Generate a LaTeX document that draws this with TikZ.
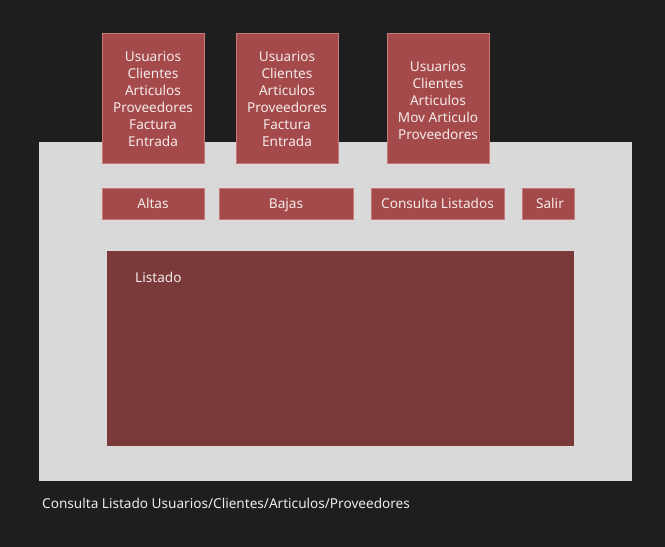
\documentclass[tikz,border=0pt]{standalone}
\usepackage{fontspec}
\setmainfont{Noto Sans}
\definecolor{bgdark}{HTML}{1E1E1E}
\definecolor{panel}{HTML}{D9D9D9}
\definecolor{boxred}{HTML}{A54A4A}
\definecolor{boxedge}{HTML}{C27A7A}
\definecolor{listred}{HTML}{7B3A3A}
\definecolor{txt}{HTML}{F5EAEA}
\begin{document}
\begin{tikzpicture}[x=1pt,y=-1pt,
  redbox/.style={fill=boxred,draw=boxedge,line width=0.6pt},
  lbl/.style={text=txt,font=\fontsize{13.6}{17}\selectfont,align=center,inner sep=0pt},
  one/.style={lbl,anchor=base}]
\useasboundingbox (0,0) rectangle (665,547);
\fill[bgdark] (0,0) rectangle (665,547);
\fill[panel] (39,142) rectangle (632,481);
% top menus
\draw[redbox] (102,33) rectangle (204,163);
\node[lbl] (m1) at (153,99.5) {Usuarios\\Clientes\\Articulos\\Proveedores\\Factura\\Entrada};
\draw[redbox] (236,33) rectangle (338,163);
\node[lbl] (m2) at (287,99.5) {Usuarios\\Clientes\\Articulos\\Proveedores\\Factura\\Entrada};
\draw[redbox] (387,33) rectangle (489,163);
\node[lbl] (m3) at (438,101) {Usuarios\\Clientes\\Articulos\\Mov Articulo\\Proveedores};
% buttons
\draw[redbox] (102,188) rectangle (204,219);
\node[one] (b1) at (153,208.8) {Altas};
\draw[redbox] (219,188) rectangle (353,219);
\node[one] (b2) at (286,208.8) {Bajas};
\draw[redbox] (371,188) rectangle (504,219);
\node[one] (b3) at (437.5,208.8) {Consulta Listados};
\draw[redbox] (522,188) rectangle (574,219);
\node[one] (b4) at (550,208.8) {Salir};
% listado
\fill[listred] (107,251) rectangle (574,446);
\node[one,anchor=base west] (lt) at (135,282.6) {Listado};
% caption
\node[one,anchor=base west,text=white!92!black] (cap) at (42,508.6) {Consulta Listado Usuarios/Clientes/Articulos/Proveedores};
\end{tikzpicture}
\end{document}
